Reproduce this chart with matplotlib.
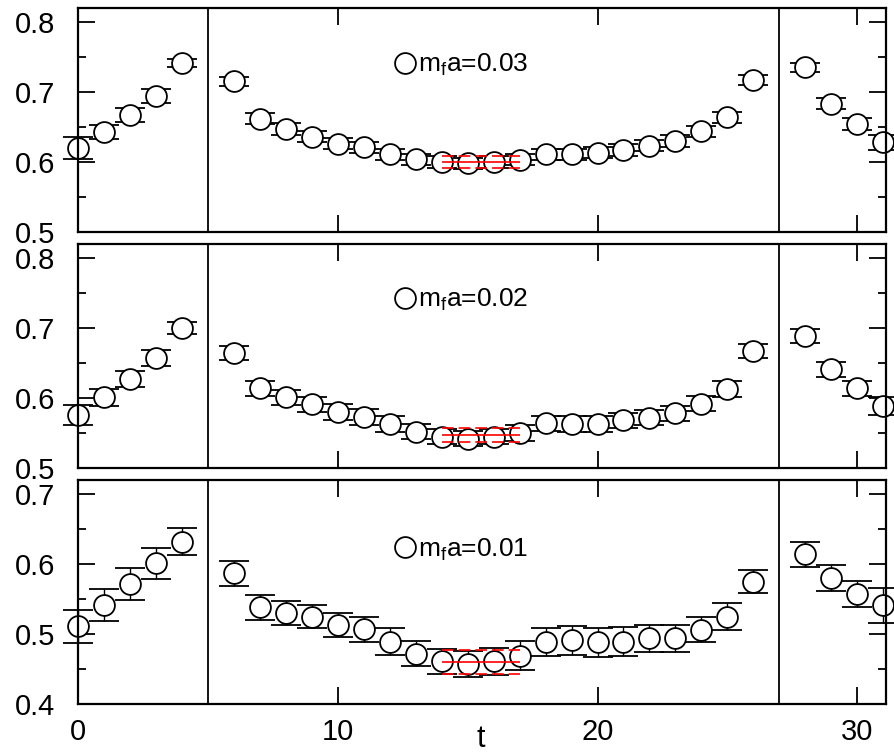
import matplotlib
matplotlib.use("Agg")
import matplotlib.pyplot as plt
from matplotlib.ticker import MultipleLocator, FixedLocator
from matplotlib.lines import Line2D

plt.rcParams['font.family'] = ['Liberation Sans', 'DejaVu Sans']
plt.rcParams['mathtext.fontset'] = 'custom'
plt.rcParams['mathtext.rm'] = 'Liberation Sans'
plt.rcParams['mathtext.it'] = 'Liberation Sans:italic'

# ---------------- data ----------------
t = [0, 1, 2, 3, 4, 6, 7, 8, 9, 10, 11, 12, 13, 14, 15, 16, 17, 18, 19, 20,
     21, 22, 23, 24, 25, 26, 28, 29, 30, 31]

y_003 = [0.620, 0.643, 0.667, 0.694, 0.741, 0.715, 0.662, 0.647, 0.636, 0.626,
         0.621, 0.611, 0.604, 0.600, 0.598, 0.600, 0.603, 0.611, 0.611, 0.613,
         0.617, 0.623, 0.630, 0.644, 0.664, 0.717, 0.735, 0.683, 0.654, 0.628]
e_003 = [0.016, 0.010, 0.010, 0.010, 0.006, 0.007, 0.008, 0.008, 0.008, 0.008,
         0.008, 0.008, 0.008, 0.008, 0.008, 0.008, 0.008, 0.008, 0.008, 0.008,
         0.008, 0.008, 0.008, 0.008, 0.008, 0.007, 0.006, 0.008, 0.009, 0.011]

y_002 = [0.576, 0.601, 0.627, 0.657, 0.700, 0.665, 0.614, 0.601, 0.591, 0.580,
         0.573, 0.563, 0.552, 0.545, 0.542, 0.545, 0.550, 0.564, 0.563, 0.563,
         0.568, 0.572, 0.578, 0.592, 0.613, 0.667, 0.689, 0.641, 0.614, 0.589]
e_002 = [0.014, 0.012, 0.011, 0.011, 0.009, 0.010, 0.011, 0.011, 0.011, 0.011,
         0.011, 0.011, 0.011, 0.011, 0.011, 0.011, 0.011, 0.011, 0.011, 0.011,
         0.011, 0.011, 0.011, 0.011, 0.011, 0.010, 0.010, 0.011, 0.011, 0.013]

y_001 = [0.511, 0.541, 0.572, 0.601, 0.632, 0.587, 0.538, 0.530, 0.525, 0.513,
         0.507, 0.489, 0.472, 0.461, 0.457, 0.461, 0.469, 0.489, 0.491, 0.488,
         0.489, 0.494, 0.494, 0.506, 0.525, 0.575, 0.614, 0.580, 0.557, 0.541]
e_001 = [0.024, 0.023, 0.023, 0.022, 0.019, 0.018, 0.018, 0.017, 0.016, 0.017,
         0.018, 0.019, 0.018, 0.018, 0.019, 0.019, 0.021, 0.020, 0.021, 0.021,
         0.021, 0.019, 0.019, 0.018, 0.019, 0.017, 0.018, 0.019, 0.019, 0.025]

fit_range = [14, 17]
fit_val = [0.600, 0.547, 0.460]
fit_err = [0.0085, 0.010, 0.017]

labels = [r"m$_\mathrm{f}$a=0.03", r"m$_\mathrm{f}$a=0.02", r"m$_\mathrm{f}$a=0.01"]
ylims = [(0.5, 0.82), (0.5, 0.82), (0.4, 0.72)]
yticks = [[0.5, 0.6, 0.7, 0.8], [0.5, 0.6, 0.7, 0.8], [0.4, 0.5, 0.6, 0.7]]
xticks = [0, 10, 20, 30]
walls = [5, 27]
leg_y = [0.745, 0.75, 0.69]

series = [(y_003, e_003), (y_002, e_002), (y_001, e_001)]

# ---------------- figure ----------------
fig = plt.figure(figsize=(8.94, 7.52), dpi=100)
W, H = 894, 752
left, right = 77.7 / W, 886 / W
tops = [8, 244, 480]
h = 224

axes = []
for i in range(3):
    bottom = 1 - (tops[i] + h) / H
    ax = fig.add_axes([left, bottom, right - left, h / H])
    axes.append(ax)
    yv, ev = series[i]
    eb = ax.errorbar(t, yv, yerr=ev, fmt='none', ecolor='black', elinewidth=1.0,
                     capsize=11, capthick=1.3, zorder=2)
    for art in eb.lines[1] + eb.lines[2]:
        art.set_clip_on(False)
    ax.plot(t, yv, 'o', ms=15, mfc='white', mec='black', mew=1.3,
            linestyle='none', zorder=3, clip_on=False)
    # fit band
    ax.hlines(fit_val[i], fit_range[0], fit_range[1], colors='red', lw=1.2, zorder=4)
    for s in (-1, 1):
        ax.hlines(fit_val[i] + s * fit_err[i], fit_range[0], fit_range[1],
                  colors='red', lw=1.2, linestyles=(0, (7, 3)), zorder=4)
    for w in walls:
        ax.axvline(w, color='black', lw=1.3, zorder=1)

    ax.set_xlim(0, 31.1)
    ax.set_ylim(*ylims[i])
    ax.xaxis.set_major_locator(FixedLocator(xticks))
    ax.yaxis.set_major_locator(FixedLocator(yticks[i]))
    ax.yaxis.set_minor_locator(MultipleLocator(0.05))
    ax.tick_params(axis='both', which='major', direction='in', length=12, width=1.3,
                   top=True, right=True, labelsize=21)
    ax.tick_params(axis='y', which='major', pad=16)
    ax.tick_params(axis='x', which='major', pad=10)
    ax.tick_params(axis='y', which='minor', direction='in', length=6, width=1.3,
                   right=True)
    ax.yaxis.set_major_formatter(plt.FuncFormatter(lambda v, p: f"{v:.1f}"))
    for sp in ax.spines.values():
        sp.set_linewidth(1.6)
        sp.set_zorder(5)
    if i < 2:
        ax.tick_params(axis='x', labelbottom=False)
    handle = Line2D([], [], marker='o', ms=15, mfc='white', mec='black', mew=1.3,
                    linestyle='none')
    ax.legend([handle], [labels[i]], loc='center left',
              bbox_to_anchor=(0.392, leg_y[i]), frameon=False, fontsize=19,
              handlelength=0.8, handletextpad=0.1, borderpad=0, borderaxespad=0)

axes[2].set_xlabel('t', fontsize=22)
axes[2].xaxis.set_label_coords(0.499, -0.088)
axes[2].xaxis.label.set_va('top')

fig.savefig('out.png', dpi=100)
